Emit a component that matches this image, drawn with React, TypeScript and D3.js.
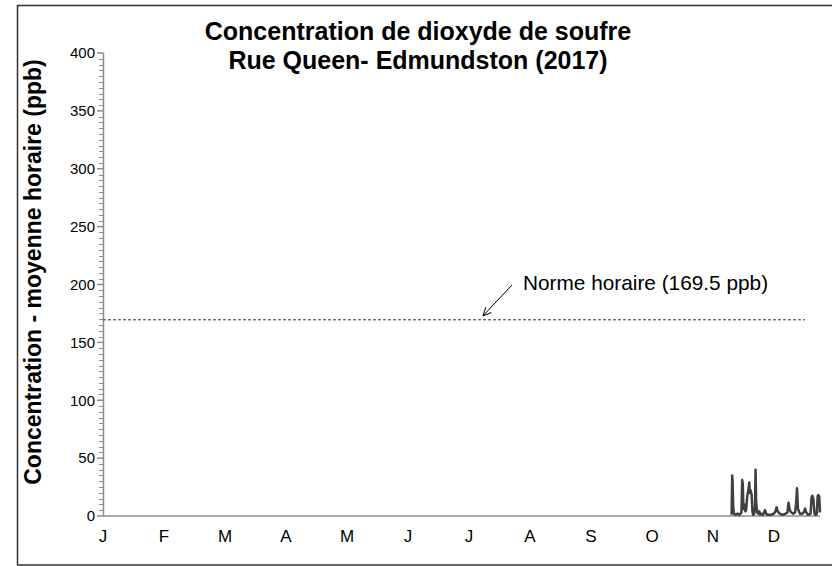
import React from "react";
import * as d3 from "d3";

const titleLines = ["Concentration de dioxyde de soufre", "Rue Queen- Edmundston (2017)"];
const yAxisTitle = "Concentration - moyenne horaire (ppb)";
const months = ["J", "F", "M", "A", "M ", "J ", "J  ", "A ", "S", "O", "N", "D"];
const yTicks = [0, 50, 100, 150, 200, 250, 300, 350, 400];
const normValue = 169.5;
const normLabel = "Norme horaire (169.5 ppb)";

// day of year (0 = Jan 1) and hourly SO2 concentration (ppb)
const so2Days = [320.0, 320.3, 320.5, 320.8, 321.2, 322, 323, 324, 325.0, 325.4, 325.7, 326.0, 326.5, 327.0, 327.4, 328.0, 328.5, 329.0, 329.3, 329.7, 330.2, 330.6, 331.0, 331.5, 331.9, 332.2, 332.5, 333.0, 333.6, 334.1, 334.6, 335.3, 336.0, 337.0, 337.6, 338.5, 340, 341.5, 342.3, 342.9, 343.5, 344.5, 346, 347.5, 348.4, 349.0, 349.6, 350.5, 351.4, 352.3, 352.8, 353.3, 353.8, 354.8, 356, 357.0, 357.4, 358.0, 359, 360.2, 360.7, 361.1, 361.6, 362.2, 362.8, 363.4, 363.8, 364.1, 364.6, 365];
const so2Values = [1, 35, 30, 8, 2, 1, 2, 1, 3, 31, 28, 6, 10, 4, 5, 18, 22, 29, 20, 22, 18, 4, 1, 2, 8, 40, 12, 3, 2, 4, 1, 2, 1, 5, 2, 1, 1, 2, 4, 7.5, 4, 2, 1, 2, 3, 11.5, 5, 3, 2, 3, 10, 24, 6, 2, 2, 4, 6.5, 3, 1, 2, 16, 17.5, 15, 2, 1, 2, 17, 18, 17, 3];

export default function App() {
  const W = 832, H = 566;
  const x = d3.scaleLinear().domain([0, 365]).range([103, 820]);
  const y = d3.scaleLinear().domain([0, 400]).range([516, 53]);
  const xm = d3.scalePoint<string>().domain(months).range([103, 774]);
  const minor = d3.range(0, 401, 5).filter((v) => v % 50 !== 0);
  const pts: [number, number][] = so2Days.map((d, i) => [d, so2Values[i]]);
  const line = d3.line<[number, number]>().x((d) => x(d[0])).y((d) => y(d[1]));
  const font = "Arial, 'Liberation Sans', sans-serif";
  const ny = y(normValue);
  // arrow
  const ax1 = 512, ay1 = 285, ax2 = 483, ay2 = ny - 4;
  const ang = Math.atan2(ay2 - ay1, ax2 - ax1);
  const hl = 9, ha = 0.45;
  const h1 = [ax2 - hl * Math.cos(ang - ha), ay2 - hl * Math.sin(ang - ha)];
  const h2 = [ax2 - hl * Math.cos(ang + ha), ay2 - hl * Math.sin(ang + ha)];
  return (
    <svg width={W} height={H} style={{ position: "absolute", left: 0, top: 0, background: "#fff" }} fontFamily={font}>
      <rect x={17.5} y={5.5} width={840} height={559.5} fill="#fff" stroke="#333" strokeWidth={1.5} />
      {titleLines.map((t, i) => (
        <text key={i} x={418} y={40 + i * 29} textAnchor="middle" fontWeight="bold" fontSize={25} fill="#000">{t}</text>
      ))}
      <text transform={`translate(41,272) rotate(-90)`} textAnchor="middle" fontWeight="bold" fontSize={23} fill="#000">{yAxisTitle}</text>
      {/* y axis */}
      <line x1={103.5} x2={103.5} y1={y(400)} y2={y(0)} stroke="#8c8c8c" strokeWidth={1.5} />
      {minor.map((v) => (
        <line key={"m" + v} x1={99} x2={103.5} y1={Math.round(y(v)) + 0.5} y2={Math.round(y(v)) + 0.5} stroke="#8c8c8c" strokeWidth={1} />
      ))}
      {yTicks.map((v) => (
        <g key={v}>
          <line x1={97} x2={103.5} y1={y(v)} y2={y(v)} stroke="#8c8c8c" strokeWidth={1.5} />
          <text x={95} y={y(v)} dy="0.35em" textAnchor="end" fontSize={15} fill="#000">{v}</text>
        </g>
      ))}
      {/* x axis */}
      <line x1={103} x2={820} y1={y(0)} y2={y(0)} stroke="#8c8c8c" strokeWidth={1.5} />
      {months.map((m, i) => (
        <text key={i} x={xm(m)} y={542} textAnchor="middle" fontSize={17} fill="#000">{m.trim()}</text>
      ))}
      {/* norm line */}
      <line x1={103} x2={805} y1={ny} y2={ny} stroke="#333" strokeWidth={1} strokeDasharray="3,2" />
      <line x1={ax1} y1={ay1} x2={ax2} y2={ay2} stroke="#000" strokeWidth={1} />
      <polyline points={`${h1[0]},${h1[1]} ${ax2},${ay2} ${h2[0]},${h2[1]}`} fill="none" stroke="#000" strokeWidth={1} />
      <text x={523} y={290} fontSize={20.8} fill="#000">{normLabel}</text>
      {/* data */}
      <path d={line(pts) || ""} fill="none" stroke="#404040" strokeWidth={2.5} strokeLinejoin="round" />
    </svg>
  );
}
